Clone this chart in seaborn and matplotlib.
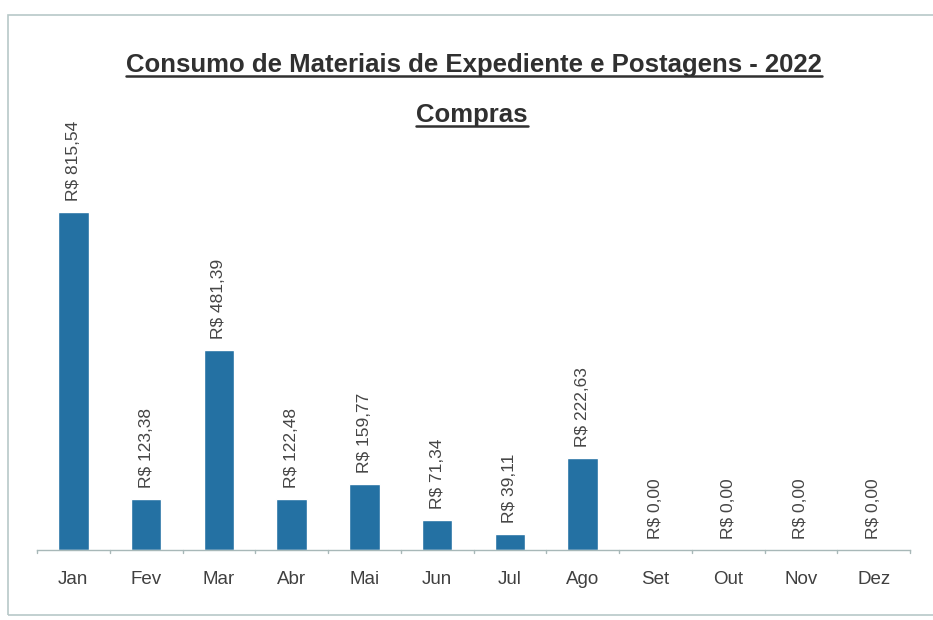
import matplotlib
matplotlib.use("Agg")
import matplotlib.pyplot as plt
import seaborn as sns
import pandas as pd
from matplotlib.lines import Line2D
from matplotlib.patches import Rectangle

months = ["Jan", "Fev", "Mar", "Abr", "Mai", "Jun", "Jul", "Ago", "Set", "Out", "Nov", "Dez"]
values = [815.54, 123.38, 481.39, 122.48, 159.77, 71.34, 39.11, 222.63, 0.0, 0.0, 0.0, 0.0]
title = "Consumo de Materiais de Expediente e Postagens - 2022"
subtitle = "Compras"

sns.set_theme(style="white")
plt.rcParams['font.family'] = ['Liberation Sans', 'DejaVu Sans']

df = pd.DataFrame({"mes": months, "valor": values})

fig = plt.figure(figsize=(9.33, 6.2), dpi=100)
ax = fig.add_axes([37/933, 1-550/620, (910-37)/933, 400/620])
sns.barplot(data=df, x="mes", y="valor", color="#2471a3", width=0.42, ax=ax, saturation=1)
ax.set_ylim(0, 965)
ax.set_xlim(-0.5, 11.5)
ax.set_xlabel("")
ax.set_ylabel("")
ax.set_yticks([])
for s in ["top", "right", "left"]:
    ax.spines[s].set_visible(False)
ax.spines["bottom"].set_color("#a8b8b8")
ax.spines["bottom"].set_linewidth(1.0)
ax.set_xticks(range(12))
ax.set_xticklabels(months, fontsize=13.5, color="#404040")
ax.tick_params(axis="x", length=0, pad=15)
for b in [i - 0.5 for i in range(13)]:
    ax.plot([b, b], [0, -8], color="#a8b8b8", lw=1.0, clip_on=False)

def fmt(v):
    s = f"{v:,.2f}".replace(",", "X").replace(".", ",").replace("X", ".")
    return "R$ " + s

for i, v in enumerate(values):
    ax.annotate(fmt(v), (i, v), xytext=(0, 8), textcoords="offset points",
                rotation=90, ha="center", va="bottom", fontsize=12.5, color="#454545")

t1 = fig.text(474/933, 1-65/620, title, ha="center", va="center",
              fontsize=18.5, fontweight="bold", color="#303030")
t2 = fig.text(472/933, 1-115/620, subtitle, ha="center", va="center",
              fontsize=18.5, fontweight="bold", color="#303030")

fig.canvas.draw()
r = fig.canvas.get_renderer()
for t in (t1, t2):
    bb = t.get_window_extent(r).transformed(fig.transFigure.inverted())
    y = bb.y0 + 0.002
    fig.add_artist(Line2D([bb.x0, bb.x1], [y, y], transform=fig.transFigure,
                          color="#303030", lw=1.8))

fig.add_artist(Rectangle((8/933, 1-615/620), 1.2, (615-15)/620, transform=fig.transFigure,
                         fill=False, edgecolor="#b8c8c8", lw=1.2))

fig.savefig("out.png", dpi=100)
